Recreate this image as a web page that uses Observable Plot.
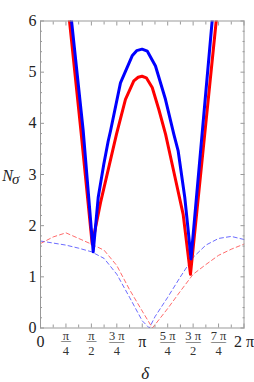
<!DOCTYPE html>
<html><head><meta charset="utf-8">
<script src="https://cdn.jsdelivr.net/npm/d3@7"></script>
<script src="https://cdn.jsdelivr.net/npm/@observablehq/plot@0.6"></script>
<style>body{margin:0;background:#fff} svg text{font-family:"Liberation Serif",serif}</style>
</head><body><div id="chart"></div>
<script>
// delta in units of pi
const blueSolidX = [0.25, 0.305, 0.42, 0.518, 0.567, 0.622, 0.665, 0.688, 0.786, 0.901, 0.945, 0.998, 1.05, 1.13, 1.228, 1.31, 1.353, 1.418, 1.452, 1.479, 1.687, 1.75];
const blueSolidY = [7.16, 6.0, 3.85, 1.49, 2.55, 3.2, 3.65, 3.85, 4.79, 5.32, 5.42, 5.45, 5.41, 5.12, 4.47, 3.79, 3.46, 2.55, 1.9, 1.35, 6.0, 7.4];
const redSolidX = [0.25, 0.285, 0.4, 0.508, 0.59, 0.747, 0.835, 0.917, 0.96, 0.998, 1.04, 1.098, 1.163, 1.229, 1.294, 1.402, 1.474, 1.727, 1.78];
const redSolidY = [6.69, 6.0, 3.8, 1.64, 2.45, 3.79, 4.47, 4.83, 4.90, 4.92, 4.89, 4.70, 4.27, 3.79, 3.2, 2.22, 1.05, 6.0, 7.04];
const redDashX = [0, 0.125, 0.25, 0.375, 0.5, 0.625, 0.75, 0.875, 1, 1.1, 1.25, 1.375, 1.5, 1.625, 1.75, 1.875, 2];
const redDashY = [1.65, 1.78, 1.86, 1.75, 1.64, 1.52, 1.22, 0.75, 0.33, 0, 0.38, 0.72, 1.05, 1.24, 1.42, 1.54, 1.64];
const blueDashX = [0, 0.125, 0.25, 0.375, 0.5, 0.625, 0.75, 0.875, 1, 1.07, 1.125, 1.25, 1.375, 1.5, 1.625, 1.75, 1.875, 2];
const blueDashY = [1.70, 1.66, 1.62, 1.56, 1.49, 1.36, 1.05, 0.6, 0.14, 0, 0.22, 0.6, 1.0, 1.38, 1.62, 1.75, 1.79, 1.73];

const xTickPos = [0, 0.25, 0.5, 0.75, 1, 1.25, 1.5, 1.75, 2];
const xTickNum = ["0", "π", "π", "3 π", "π", "5 π", "3 π", "7 π", "2 π"];
const xTickDen = [null, "4", "2", "4", null, "4", "2", "4", null];
const xMinor = [0.125, 0.375, 0.625, 0.875, 1.125, 1.375, 1.625, 1.875];
const yTicks = [0, 1, 2, 3, 4, 5, 6];
const yMinor = d3.range(0, 6.001, 0.2).filter(v => Math.abs(v - Math.round(v)) > 1e-6);

const rows = (xs, ys) => xs.map((x, i) => ({x, y: ys[i]}));
const labels = xTickPos.map((p, i) => ({p, num: xTickNum[i], den: xTickDen[i]}));
const whole = labels.filter(d => !d.den);
const frac = labels.filter(d => d.den);

const serif = "Liberation Serif";
const gray = "#999";

const chart = Plot.plot({
  width: 254, height: 382,
  marginLeft: 40, marginRight: 10.5, marginTop: 20.5, marginBottom: 54.5,
  style: {fontFamily: serif, fontSize: "16px", background: "#fff"},
  x: {domain: [0, 2]},
  y: {domain: [0, 6]},
  marks: [
    Plot.line(rows(blueDashX, blueDashY), {x: "x", y: "y", stroke: "#3a3aff", strokeWidth: 1, strokeDasharray: "4,3", strokeOpacity: 0.75}),
    Plot.line(rows(redDashX, redDashY), {x: "x", y: "y", stroke: "#ff3a3a", strokeWidth: 1, strokeDasharray: "4,3", strokeOpacity: 0.75}),
    Plot.line(rows(redSolidX, redSolidY), {x: "x", y: "y", stroke: "red", strokeWidth: 3, clip: true}),
    Plot.line(rows(blueSolidX, blueSolidY), {x: "x", y: "y", stroke: "blue", strokeWidth: 3, clip: true}),
    Plot.frame({stroke: gray}),
    Plot.axisX({anchor: "bottom", ticks: xTickPos, tickSize: -4, tickFormat: () => "", stroke: gray, label: null}),
    Plot.axisX({anchor: "bottom", ticks: xMinor, tickSize: -3, tickFormat: () => "", stroke: gray, label: null}),
    Plot.axisX({anchor: "top", ticks: xTickPos, tickSize: -4, tickFormat: () => "", stroke: gray, label: null}),
    Plot.axisX({anchor: "top", ticks: xMinor, tickSize: -3, tickFormat: () => "", stroke: gray, label: null}),
    Plot.axisY({anchor: "left", ticks: yTicks, tickSize: -4, tickFormat: () => "", stroke: gray, label: null}),
    Plot.axisY({anchor: "left", ticks: yMinor, tickSize: -2, tickFormat: () => "", stroke: gray, label: null}),
    Plot.axisY({anchor: "right", ticks: yTicks, tickSize: -4, tickFormat: () => "", stroke: gray, label: null}),
    Plot.axisY({anchor: "right", ticks: yMinor, tickSize: -2, tickFormat: () => "", stroke: gray, label: null}),
    Plot.axisY({anchor: "left", ticks: yTicks, tickSize: 0, tickPadding: 4, tickFormat: d => String(d), fontSize: 16, fontFamily: serif, fill: "#222", label: null}),
    Plot.text(whole, {x: "p", text: "num", frameAnchor: "bottom", dy: 13.4, fontSize: 16, fontFamily: serif, lineAnchor: "middle", fill: "#222"}),
    Plot.text(frac, {x: "p", text: "num", frameAnchor: "bottom", dy: 8.2, fontSize: 12.5, fontFamily: serif, lineAnchor: "middle", fill: "#333"}),
    Plot.text(frac, {x: "p", text: () => "—", frameAnchor: "bottom", dy: 13, fontSize: d => d.num.length > 1 ? 15 : 10, fontFamily: serif, lineAnchor: "middle", fill: "#333"}),
    Plot.text(frac, {x: "p", text: "den", frameAnchor: "bottom", dy: 23.2, fontSize: 12.5, fontFamily: serif, lineAnchor: "middle", fill: "#333"}),
    Plot.text(["δ"], {frameAnchor: "bottom", dx: 3, dy: 45.5, fontSize: 17, fontFamily: serif, fontStyle: "italic", lineAnchor: "middle", fill: "#222"}),
    Plot.text(["N"], {frameAnchor: "left", dx: -38.3, dy: 0.9, fontSize: 16, fontFamily: serif, fontStyle: "italic", textAnchor: "start", lineAnchor: "middle", fill: "#222"}),
    Plot.text(["σ"], {frameAnchor: "left", dx: -28.5, dy: 4.5, fontSize: 15, fontFamily: serif, fontStyle: "italic", textAnchor: "start", lineAnchor: "middle", fill: "#222"})
  ]
});
document.getElementById("chart").appendChild(chart);
</script>
</body></html>
